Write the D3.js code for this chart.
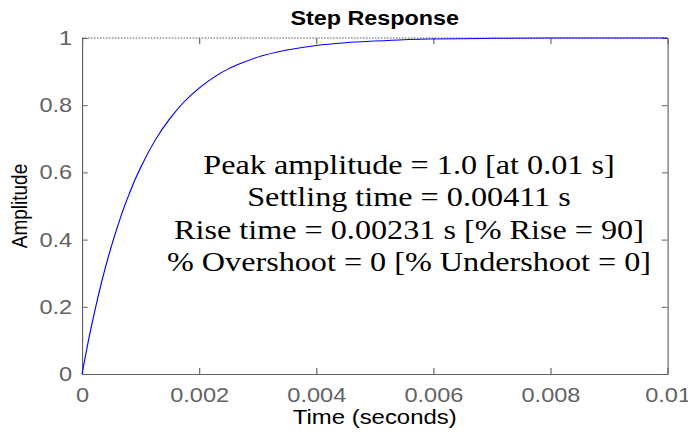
<!DOCTYPE html>
<html>
<head>
<meta charset="utf-8">
<script src="https://cdn.jsdelivr.net/npm/d3@7"></script>
<style>
  html, body { margin: 0; padding: 0; background: #fff; }
  svg { display: block; }
</style>
</head>
<body>
<svg id="chart"></svg>
<script>
// ---- data ----
const timeValues = [0, 0.0001, 0.0002, 0.0003, 0.0004, 0.0005, 0.0006, 0.0007, 0.0008, 0.0009,
  0.001, 0.00125, 0.0015, 0.00175, 0.002, 0.00225, 0.0025, 0.00275, 0.003, 0.0035,
  0.004, 0.0045, 0.005, 0.0055, 0.006, 0.007, 0.008, 0.009, 0.01];
const amplitudeValues = [0, 0.091, 0.173, 0.249, 0.317, 0.379, 0.435, 0.487, 0.533, 0.576,
  0.614, 0.696, 0.760, 0.811, 0.851, 0.883, 0.908, 0.927, 0.943, 0.964,
  0.978, 0.986, 0.991, 0.995, 0.997, 0.999, 1.000, 1.000, 1.000];
const xTickValues = [0, 0.002, 0.004, 0.006, 0.008, 0.01];
const xTickLabels = ["0", "0.002", "0.004", "0.006", "0.008", "0.01"];
const yTickValues = [0, 0.2, 0.4, 0.6, 0.8, 1];
const yTickLabels = ["0", "0.2", "0.4", "0.6", "0.8", "1"];
const steadyState = [1];
const titleText = "Step Response";
const xLabelText = "Time (seconds)";
const yLabelText = "Amplitude";
const infoLines = [
  "Peak amplitude = 1.0 [at 0.01 s]",
  "Settling time = 0.00411 s",
  "Rise time = 0.00231 s [% Rise = 90]",
  "% Overshoot = 0 [% Undershoot = 0]"
];

// ---- layout (picture is stretched horizontally) ----
const W = 688, H = 432, SX = 1.15;
const IW = W / SX;
const svg = d3.select("#chart")
  .attr("width", W).attr("height", H)
  .attr("viewBox", `0 0 ${IW} ${H}`)
  .attr("preserveAspectRatio", "none");

const mLeft = 82 / SX, mRight = 667.5 / SX, mTop = 38, mBottom = 374;
const x = d3.scaleLinear().domain([0, 0.01]).range([mLeft, mRight]);
const y = d3.scaleLinear().domain([0, 1]).range([mBottom, mTop]);

const axisColor = "#636363";
const sans = "'Liberation Sans', Arial, sans-serif";

function styleAxis(g) {
  g.selectAll("path.domain").attr("stroke", axisColor).attr("stroke-width", 1);
  g.selectAll(".tick line").attr("stroke", axisColor).attr("stroke-width", 1);
  g.selectAll(".tick text").attr("fill", axisColor).attr("font-family", sans).attr("font-size", 20.5);
}

// bottom axis
svg.append("g").attr("transform", `translate(0,${mBottom})`)
  .call(d3.axisBottom(x).tickValues(xTickValues).tickFormat((d, i) => xTickLabels[i])
    .tickSizeInner(-6).tickSizeOuter(0).tickPadding(13))
  .call(styleAxis);

// left axis
svg.append("g").attr("transform", `translate(${mLeft},0)`)
  .call(d3.axisLeft(y).tickValues(yTickValues).tickFormat((d, i) => yTickLabels[i])
    .tickSizeInner(-5).tickSizeOuter(0).tickPadding(8.5))
  .call(styleAxis);

// top axis (ticks only)
const topAxis = svg.append("g").attr("transform", `translate(0,${mTop})`)
  .call(d3.axisTop(x).tickValues(xTickValues).tickFormat("").tickSizeInner(-6).tickSizeOuter(0))
  .call(styleAxis);
topAxis.select("path.domain").remove();

// right axis (ticks only)
svg.append("g").attr("transform", `translate(${mRight},0)`)
  .call(d3.axisRight(y).tickValues(yTickValues).tickFormat("").tickSizeInner(-5).tickSizeOuter(0))
  .call(styleAxis);

// steady-state dotted line (on top edge)
svg.selectAll("line.ss").data(steadyState).enter().append("line")
  .attr("class", "ss")
  .attr("x1", x(0)).attr("x2", x(0.01))
  .attr("y1", d => y(d)).attr("y2", d => y(d))
  .attr("stroke", "#555").attr("stroke-width", 1)
  .attr("stroke-dasharray", "1.3,1.3");

// response curve
const pts = timeValues.map((t, i) => [t, amplitudeValues[i]]);
svg.append("path").datum(pts)
  .attr("fill", "none").attr("stroke", "#0000ff").attr("stroke-width", 1)
  .attr("d", d3.line().x(d => x(d[0])).y(d => y(d[1])).curve(d3.curveMonotoneX));

// title
svg.append("text").attr("x", (mLeft + mRight) / 2).attr("y", 25)
  .attr("text-anchor", "middle").attr("font-family", sans).attr("font-weight", "bold")
  .attr("font-size", 20.3).attr("fill", "#000").text(titleText);

// x label
svg.append("text").attr("x", (mLeft + mRight) / 2).attr("y", 424)
  .attr("text-anchor", "middle").attr("font-family", sans)
  .attr("font-size", 20.8).attr("fill", "#000").text(xLabelText);

// y label
svg.append("text").attr("transform", `translate(${27 / SX},${(mTop + mBottom) / 2}) rotate(-90)`)
  .attr("text-anchor", "middle").attr("font-family", sans)
  .attr("font-size", 19).attr("fill", "#000").text(yLabelText);

// info text
svg.append("g").selectAll("text").data(infoLines).enter().append("text")
  .attr("x", 409 / SX).attr("y", (d, i) => 174 + i * 32.5)
  .attr("text-anchor", "middle")
  .attr("font-family", "'Liberation Serif', 'Times New Roman', serif")
  .attr("font-size", 28).attr("fill", "#000").text(d => d);
</script>
</body>
</html>
